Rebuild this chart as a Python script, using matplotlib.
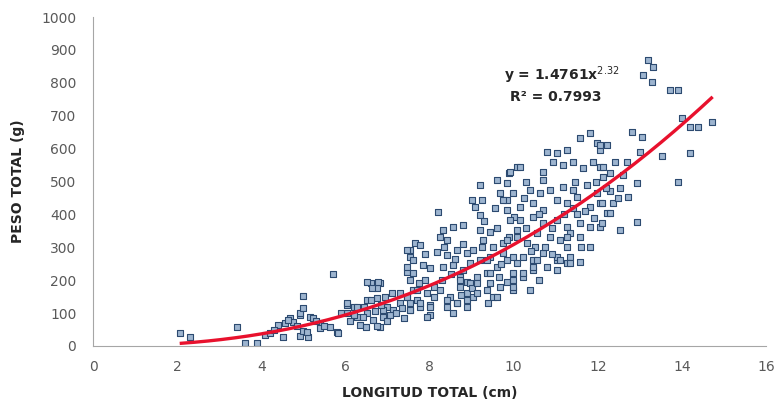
import numpy as np
import matplotlib.pyplot as plt

# puntos (longitud cm, peso g)
pts = [
    # x < 6
    (2.07,40),(2.31,27),(3.42,58),(3.61,8),(3.9,10),(4.1,33),(4.21,38),(4.4,64),(4.56,70),(4.52,27),
    (4.68,85),(4.75,73),(4.64,79),(4.92,94),(4.92,100),(5.0,115),(5.0,152),(4.92,30),(5.1,27),(5.0,45),
    (5.16,88),(5.24,85),(5.4,70),(5.4,55),(5.09,43),(5.63,58),(5.7,218),(5.8,43),(5.83,40),(5.5,60),
    (4.3,50),(4.85,60),(5.3,75),
    # 6 - 7.5
    (6.03,125),(6.2,118),(6.04,131),(6.28,118),(6.04,100),(6.28,88),(6.51,140),(6.75,146),(6.99,118),(7.13,109),
    (7.3,131),(6.51,100),(6.66,79),(6.9,88),(6.82,58),(6.35,64),(6.6,190),(6.82,190),(6.75,175),(6.51,195),
    (6.78,195),(6.63,176),(6.6,140),(6.42,88),(6.5,58),(6.75,60),(6.9,110),(6.45,120),(6.7,105),(7.0,75),
    (7.05,95),(6.85,125),(6.2,95),(5.9,100),(6.1,75),(7.2,100),(7.35,115),(7.4,85),(6.95,150),(7.1,160),
    # 7.3 - 8.2
    (7.54,292),(7.66,313),(7.47,225),(7.54,201),(7.61,170),(7.47,149),(7.7,140),(7.54,109),(7.47,292),(7.78,307),
    (7.54,271),(7.47,240),(7.6,222),(7.85,246),(8.0,237),(7.3,161),(7.47,149),(7.7,170),(7.94,161),(7.54,131),
    (7.78,118),(8.0,125),(8.0,94),(7.94,88),(7.78,131),(7.54,109),(8.0,118),(7.9,200),(7.75,190),(8.1,180),
    (7.6,260),(7.9,280),(8.1,150),
    # 8.2 - 9.1
    (8.2,407),(8.32,352),(8.56,362),(8.8,368),(8.25,331),(8.42,322),(8.18,286),(8.42,277),(8.65,292),(8.9,283),
    (9.03,292),(8.32,240),(8.56,246),(8.8,231),(8.96,252),(8.72,210),(8.9,194),(8.25,170),(8.49,149),(8.72,179),
    (8.9,161),(8.96,191),(8.42,118),(8.65,131),(8.9,118),(8.42,140),(8.65,131),(8.9,140),(9.03,149),(8.72,201),
    (8.3,200),(8.5,220),(8.6,265),(8.35,300),(8.8,310),(9.0,175),(8.55,100),(8.75,155),
    # 9.0 - 10.1
    (9.2,489),(9.0,444),(9.25,444),(9.08,423),(9.2,398),(9.6,505),(9.84,495),(9.9,526),(10.08,544),(9.68,465),
    (9.84,444),(9.84,413),(10.0,393),(9.2,352),(9.44,347),(9.27,322),(9.2,261),(9.44,271),(9.75,283),(9.75,313),
    (9.9,331),(10.08,352),(9.37,222),(9.44,191),(9.68,179),(9.84,194),(9.13,210),(9.13,161),(9.37,170),(9.51,149),
    (9.6,149),(9.13,191),(9.44,222),(9.6,240),(9.37,261),(9.99,201),(9.99,170),(9.91,529),(9.99,465),(9.75,444),
    (9.91,383),(9.84,322),(9.99,271),(9.99,222),(9.99,179),(9.5,300),(9.3,380),(9.6,360),(9.55,420),(9.7,250),
    (9.25,300),(9.85,260),(9.4,130),(9.65,210),
    # 10.1 - 11.1
    (10.15,544),(10.39,474),(10.63,465),(10.87,474),(10.15,423),(10.46,435),(10.7,413),(11.03,444),(10.15,383),(10.46,392),
    (10.7,374),(11.03,383),(10.08,331),(10.32,313),(10.56,343),(10.87,331),(11.1,322),(10.08,252),(10.22,271),(10.46,261),
    (10.7,283),(11.03,261),(10.22,210),(10.46,231),(11.03,271),(10.39,170),(10.22,222),(10.46,240),(10.56,261),(10.8,240),
    (11.03,231),(10.8,590),(11.03,587),(10.94,559),(10.7,529),(10.7,505),(10.3,500),(10.5,300),(10.9,360),(10.6,400),
    (10.3,360),(10.75,300),(10.9,280),(10.4,290),(10.6,200),(10.25,450),
    # 11.1 - 12.1
    (11.27,596),(11.17,550),(11.41,559),(11.65,541),(11.89,559),(11.17,483),(11.41,474),(11.75,489),(11.98,465),(11.27,435),
    (11.51,453),(11.82,423),(12.05,435),(11.27,362),(11.58,374),(11.82,362),(12.05,362),(11.34,343),(11.58,331),(11.82,301),
    (11.27,301),(11.34,271),(11.27,252),(11.1,261),(11.34,252),(11.58,255),(11.27,331),(11.82,647),(11.58,632),(11.98,617),
    (12.05,596),(12.05,544),(11.5,400),(11.7,410),(11.9,390),(11.4,420),(11.2,400),(11.6,300),(11.45,500),(11.95,500),
    # 12.1 - 13
    (12.22,611),(12.29,526),(12.36,435),(12.13,544),(12.13,514),(12.53,480),(12.48,450),(12.72,453),(12.93,495),(12.1,435),
    (12.22,404),(12.1,374),(12.93,377),(12.53,353),(12.69,559),(12.81,650),(13.05,635),(13.0,590),(12.05,611),(12.3,470),
    (12.2,480),(12.29,404),(12.4,560),(12.6,520),
    # 13 - 14.7
    (13.2,869),(13.31,848),(13.08,824),(13.29,802),(13.72,778),(13.91,778),(14.0,693),(14.19,666),(14.38,666),(14.72,681),
    (14.19,587),(13.91,498),(13.53,577),
]
longitud = [p[0] for p in pts]
peso = [p[1] for p in pts]

# ajuste potencial mostrado en el grafico
a_coef = 1.4761
b_coef = 2.32
r2 = 0.7993
x_ini, x_fin = 2.1, 14.7

fig = plt.figure(figsize=(7.77, 4.05), dpi=100)
ax = fig.add_axes([0.1197, 0.1457, 0.8663, 0.8123])

ax.scatter(longitud, peso, marker='s', s=20, facecolor='#9db4cf',
           edgecolor='#2c4a70', linewidth=0.8, zorder=2)

xf = np.linspace(x_ini, x_fin, 200)
ax.plot(xf, a_coef * xf ** b_coef, color='#e8112d', lw=2.4, zorder=3)

ax.text(11.15, 822, r'y = %.4fx$^{%.2f}$' % (a_coef, b_coef), ha='center', va='center',
        fontsize=10, fontweight='bold', color='#262626')
ax.text(11.0, 757, 'R² = %.4f' % r2, ha='center', va='center',
        fontsize=10, fontweight='bold', color='#262626')

ax.set_xlim(0, 16)
ax.set_ylim(0, 1000)
ax.set_xticks(range(0, 17, 2))
ax.set_yticks(range(0, 1001, 100))
ax.tick_params(axis='x', length=0, labelsize=10, labelcolor='#595959', pad=10)
ax.tick_params(axis='y', length=0, labelsize=10, labelcolor='#595959', pad=12)
for s in ['top', 'right']:
    ax.spines[s].set_visible(False)
for s in ['left', 'bottom']:
    ax.spines[s].set_color('#a6a6a6')
ax.set_xlabel('LONGITUD TOTAL (cm)', fontsize=10, fontweight='bold', color='#262626', labelpad=9)
ax.set_ylabel('PESO TOTAL (g)', fontsize=10, fontweight='bold', color='#262626', labelpad=12)

fig.savefig('out.png', dpi=100)
